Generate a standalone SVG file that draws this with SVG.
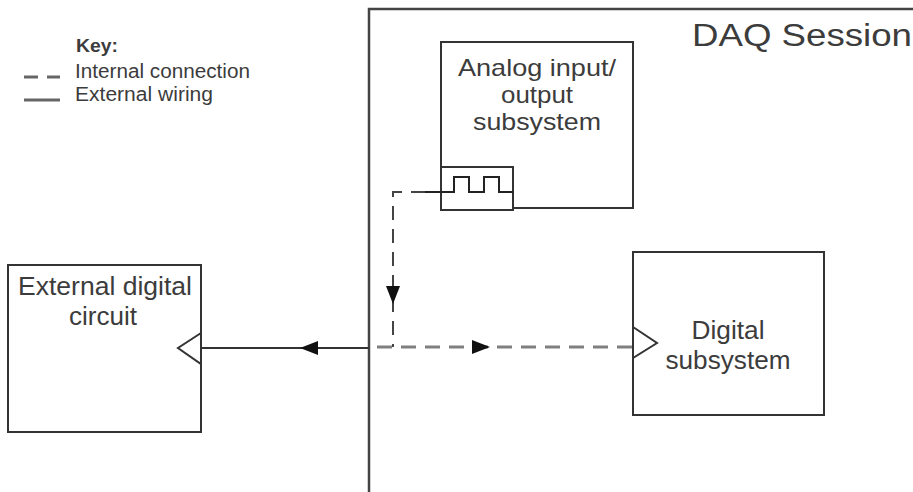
<svg xmlns="http://www.w3.org/2000/svg" width="913" height="492" viewBox="0 0 913 492">
<defs>
<style>
.t{font-family:"Liberation Sans",Arial,sans-serif;fill:#3c3c3c;}
.box{fill:none;stroke:#333;stroke-width:2;}
.ext{fill:none;stroke:#333;stroke-width:2;}
.intd{fill:none;stroke:#444;stroke-width:2;stroke-dasharray:14,9;}
.intg{fill:none;stroke:#808080;stroke-width:3;stroke-dasharray:15,9;}
.ah{fill:#111;stroke:none;}
</style>
</defs>
<rect width="913" height="492" fill="#fff"/>

<g id="key">
<text class="t" x="76" y="52" font-size="19" font-weight="bold" textLength="42" lengthAdjust="spacingAndGlyphs">Key:</text>
<line x1="24" y1="77" x2="38" y2="77" stroke="#666" stroke-width="3"/>
<line x1="47" y1="77" x2="60" y2="77" stroke="#666" stroke-width="3"/>
<text class="t" x="75" y="78" font-size="20" textLength="175" lengthAdjust="spacingAndGlyphs">Internal connection</text>
<line x1="24" y1="100" x2="60" y2="100" stroke="#666" stroke-width="3"/>
<text class="t" x="75" y="101" font-size="20" textLength="138" lengthAdjust="spacingAndGlyphs">External wiring</text>
</g>

<g id="daq-session">
<polyline points="369,492 369,9 913,9" fill="none" stroke="#444" stroke-width="2.5"/>
<text class="t" x="692" y="46" font-size="31" textLength="220" lengthAdjust="spacingAndGlyphs">DAQ Session</text>
</g>

<g id="analog-subsystem">
<rect class="box" x="441" y="42" width="192" height="166"/>
<text class="t" x="537" y="76" font-size="24" text-anchor="middle" textLength="158" lengthAdjust="spacingAndGlyphs">Analog input/</text>
<text class="t" x="537" y="103" font-size="24" text-anchor="middle" textLength="72" lengthAdjust="spacingAndGlyphs">output</text>
<text class="t" x="537" y="130" font-size="24" text-anchor="middle" textLength="128" lengthAdjust="spacingAndGlyphs">subsystem</text>
<rect x="441" y="167" width="72" height="43" fill="#fff" stroke="#333" stroke-width="2"/>
<polyline points="425,192 454,192 454,177 469,177 469,192 484,192 484,177 499,177 499,192 513,192" fill="none" stroke="#222" stroke-width="2"/>
</g>

<g id="external-circuit">
<rect class="box" x="8" y="265" width="193" height="167"/>
<text class="t" x="105" y="295" font-size="25" text-anchor="middle" textLength="174" lengthAdjust="spacingAndGlyphs">External digital</text>
<text class="t" x="103" y="325" font-size="25" text-anchor="middle" textLength="68" lengthAdjust="spacingAndGlyphs">circuit</text>
<polygon points="201,333 178,348 201,364" fill="#fff" stroke="#333" stroke-width="2"/>
</g>

<g id="digital-subsystem">
<rect class="box" x="633" y="252" width="191" height="163"/>
<text class="t" x="728" y="339" font-size="25" text-anchor="middle" textLength="73" lengthAdjust="spacingAndGlyphs">Digital</text>
<text class="t" x="728" y="369" font-size="25" text-anchor="middle" textLength="125" lengthAdjust="spacingAndGlyphs">subsystem</text>
<polygon points="633,327 657,343 633,358" fill="#fff" stroke="#333" stroke-width="2"/>
</g>

<g id="connectors">
<polyline class="intd" points="425,192 393,192 393,347"/>
<line class="intg" x1="377" y1="347" x2="633" y2="347"/>
<line class="ext" x1="201" y1="348" x2="369" y2="348"/>
<polygon class="ah" points="393,304 386,286 400,286"/>
<polygon class="ah" points="300,348 318,341 318,355"/>
<polygon class="ah" points="490,347 472,340 472,354"/>
</g>
</svg>
